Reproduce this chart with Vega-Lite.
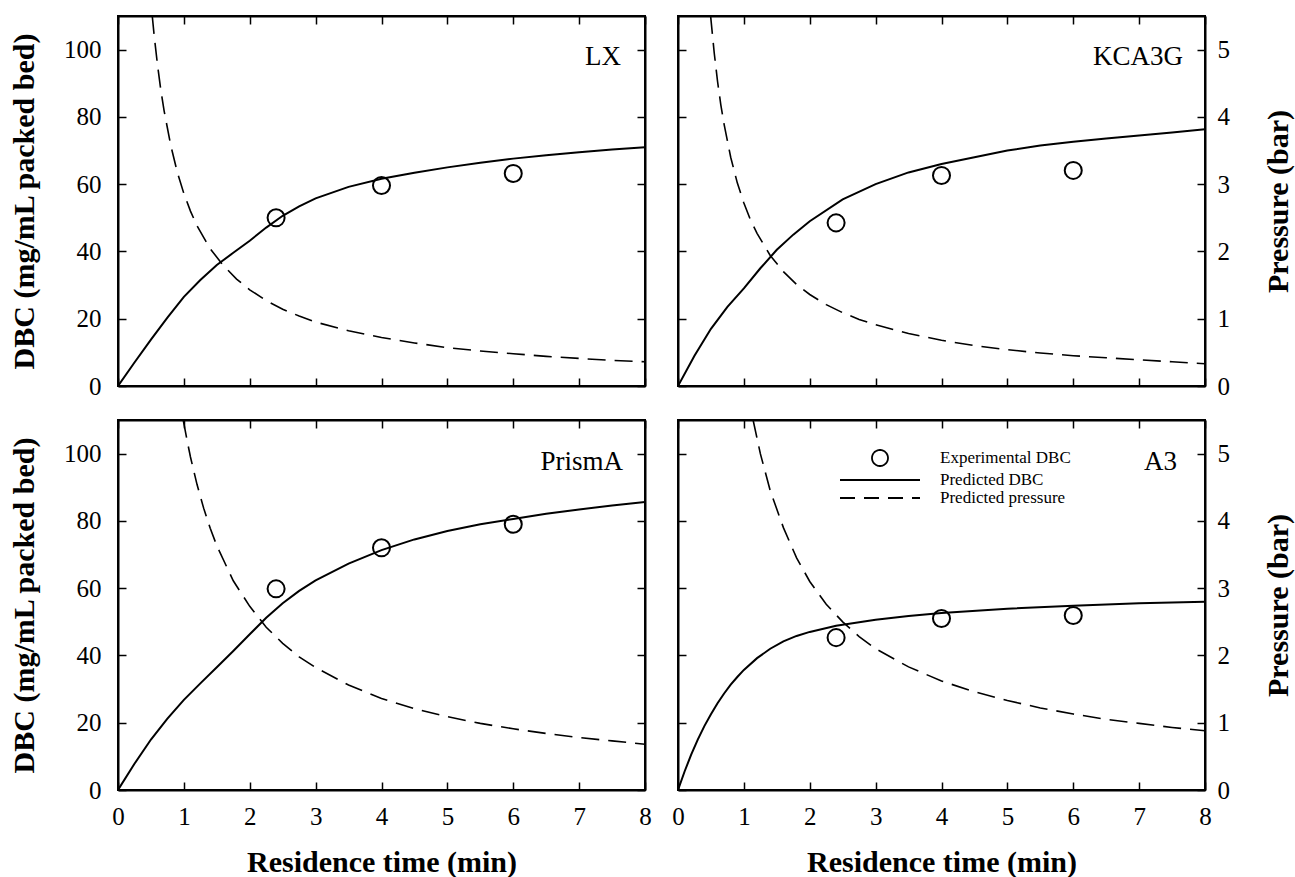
{
  "$schema": "https://vega.github.io/schema/vega-lite/v6.json",
  "background": "white",
  "padding": {"left": 8, "top": 14, "right": 3, "bottom": 0},
  "config": {
    "font": "Liberation Serif",
    "view": {"stroke": "black", "strokeWidth": 2},
    "axis": {
      "grid": false,
      "labelFont": "Liberation Serif",
      "labelFontSize": 25,
      "labelColor": "black",
      "labelFlush": false,
      "titleFont": "Liberation Serif",
      "titleFontSize": 30,
      "titleFontWeight": "bold",
      "titleColor": "black",
      "domainColor": "black",
      "domainWidth": 2,
      "tickColor": "black",
      "tickWidth": 1.5,
      "tickSize": -8
    }
  },
  "datasets": {
    "curves": [
      {"panel": "LX", "series": "Predicted DBC", "t": 0, "v": 0},
      {"panel": "LX", "series": "Predicted DBC", "t": 0.25, "v": 7},
      {"panel": "LX", "series": "Predicted DBC", "t": 0.5, "v": 13.8},
      {"panel": "LX", "series": "Predicted DBC", "t": 0.75, "v": 20.3},
      {"panel": "LX", "series": "Predicted DBC", "t": 1, "v": 26.5},
      {"panel": "LX", "series": "Predicted DBC", "t": 1.25, "v": 31.5},
      {"panel": "LX", "series": "Predicted DBC", "t": 1.5, "v": 36},
      {"panel": "LX", "series": "Predicted DBC", "t": 1.75, "v": 39.6},
      {"panel": "LX", "series": "Predicted DBC", "t": 2, "v": 43.2},
      {"panel": "LX", "series": "Predicted DBC", "t": 2.25, "v": 47.1},
      {"panel": "LX", "series": "Predicted DBC", "t": 2.5, "v": 50.6},
      {"panel": "LX", "series": "Predicted DBC", "t": 2.75, "v": 53.4},
      {"panel": "LX", "series": "Predicted DBC", "t": 3, "v": 55.8},
      {"panel": "LX", "series": "Predicted DBC", "t": 3.5, "v": 59.2},
      {"panel": "LX", "series": "Predicted DBC", "t": 4, "v": 61.6},
      {"panel": "LX", "series": "Predicted DBC", "t": 4.5, "v": 63.4},
      {"panel": "LX", "series": "Predicted DBC", "t": 5, "v": 65},
      {"panel": "LX", "series": "Predicted DBC", "t": 5.5, "v": 66.4},
      {"panel": "LX", "series": "Predicted DBC", "t": 6, "v": 67.6},
      {"panel": "LX", "series": "Predicted DBC", "t": 6.5, "v": 68.6},
      {"panel": "LX", "series": "Predicted DBC", "t": 7, "v": 69.5},
      {"panel": "LX", "series": "Predicted DBC", "t": 7.5, "v": 70.3},
      {"panel": "LX", "series": "Predicted DBC", "t": 8, "v": 71},

      {"panel": "LX", "series": "Predicted pressure", "t": 0.52, "v": 5.5},
      {"panel": "LX", "series": "Predicted pressure", "t": 0.55, "v": 5.2},
      {"panel": "LX", "series": "Predicted pressure", "t": 0.6, "v": 4.77},
      {"panel": "LX", "series": "Predicted pressure", "t": 0.65, "v": 4.4},
      {"panel": "LX", "series": "Predicted pressure", "t": 0.7, "v": 4.09},
      {"panel": "LX", "series": "Predicted pressure", "t": 0.8, "v": 3.58},
      {"panel": "LX", "series": "Predicted pressure", "t": 0.9, "v": 3.18},
      {"panel": "LX", "series": "Predicted pressure", "t": 1, "v": 2.86},
      {"panel": "LX", "series": "Predicted pressure", "t": 1.1, "v": 2.6},
      {"panel": "LX", "series": "Predicted pressure", "t": 1.2, "v": 2.38},
      {"panel": "LX", "series": "Predicted pressure", "t": 1.4, "v": 2.04},
      {"panel": "LX", "series": "Predicted pressure", "t": 1.6, "v": 1.79},
      {"panel": "LX", "series": "Predicted pressure", "t": 1.8, "v": 1.59},
      {"panel": "LX", "series": "Predicted pressure", "t": 2, "v": 1.43},
      {"panel": "LX", "series": "Predicted pressure", "t": 2.25, "v": 1.27},
      {"panel": "LX", "series": "Predicted pressure", "t": 2.5, "v": 1.14},
      {"panel": "LX", "series": "Predicted pressure", "t": 2.75, "v": 1.04},
      {"panel": "LX", "series": "Predicted pressure", "t": 3, "v": 0.95},
      {"panel": "LX", "series": "Predicted pressure", "t": 3.5, "v": 0.82},
      {"panel": "LX", "series": "Predicted pressure", "t": 4, "v": 0.72},
      {"panel": "LX", "series": "Predicted pressure", "t": 4.5, "v": 0.64},
      {"panel": "LX", "series": "Predicted pressure", "t": 5, "v": 0.57},
      {"panel": "LX", "series": "Predicted pressure", "t": 5.5, "v": 0.52},
      {"panel": "LX", "series": "Predicted pressure", "t": 6, "v": 0.48},
      {"panel": "LX", "series": "Predicted pressure", "t": 6.5, "v": 0.44},
      {"panel": "LX", "series": "Predicted pressure", "t": 7, "v": 0.41},
      {"panel": "LX", "series": "Predicted pressure", "t": 7.5, "v": 0.38},
      {"panel": "LX", "series": "Predicted pressure", "t": 8, "v": 0.36},

      {"panel": "KCA3G", "series": "Predicted DBC", "t": 0, "v": 0},
      {"panel": "KCA3G", "series": "Predicted DBC", "t": 0.25, "v": 9},
      {"panel": "KCA3G", "series": "Predicted DBC", "t": 0.5, "v": 17},
      {"panel": "KCA3G", "series": "Predicted DBC", "t": 0.75, "v": 23.5},
      {"panel": "KCA3G", "series": "Predicted DBC", "t": 1, "v": 29},
      {"panel": "KCA3G", "series": "Predicted DBC", "t": 1.25, "v": 35},
      {"panel": "KCA3G", "series": "Predicted DBC", "t": 1.5, "v": 40.5},
      {"panel": "KCA3G", "series": "Predicted DBC", "t": 1.75, "v": 45},
      {"panel": "KCA3G", "series": "Predicted DBC", "t": 2, "v": 49},
      {"panel": "KCA3G", "series": "Predicted DBC", "t": 2.5, "v": 55.5},
      {"panel": "KCA3G", "series": "Predicted DBC", "t": 3, "v": 60},
      {"panel": "KCA3G", "series": "Predicted DBC", "t": 3.5, "v": 63.5},
      {"panel": "KCA3G", "series": "Predicted DBC", "t": 4, "v": 66},
      {"panel": "KCA3G", "series": "Predicted DBC", "t": 4.5, "v": 68},
      {"panel": "KCA3G", "series": "Predicted DBC", "t": 5, "v": 70},
      {"panel": "KCA3G", "series": "Predicted DBC", "t": 5.5, "v": 71.5},
      {"panel": "KCA3G", "series": "Predicted DBC", "t": 6, "v": 72.6},
      {"panel": "KCA3G", "series": "Predicted DBC", "t": 6.5, "v": 73.6},
      {"panel": "KCA3G", "series": "Predicted DBC", "t": 7, "v": 74.5},
      {"panel": "KCA3G", "series": "Predicted DBC", "t": 7.5, "v": 75.4},
      {"panel": "KCA3G", "series": "Predicted DBC", "t": 8, "v": 76.3},

      {"panel": "KCA3G", "series": "Predicted pressure", "t": 0.495, "v": 5.5},
      {"panel": "KCA3G", "series": "Predicted pressure", "t": 0.55, "v": 4.95},
      {"panel": "KCA3G", "series": "Predicted pressure", "t": 0.6, "v": 4.53},
      {"panel": "KCA3G", "series": "Predicted pressure", "t": 0.65, "v": 4.18},
      {"panel": "KCA3G", "series": "Predicted pressure", "t": 0.7, "v": 3.89},
      {"panel": "KCA3G", "series": "Predicted pressure", "t": 0.8, "v": 3.4},
      {"panel": "KCA3G", "series": "Predicted pressure", "t": 0.9, "v": 3.02},
      {"panel": "KCA3G", "series": "Predicted pressure", "t": 1, "v": 2.72},
      {"panel": "KCA3G", "series": "Predicted pressure", "t": 1.1, "v": 2.47},
      {"panel": "KCA3G", "series": "Predicted pressure", "t": 1.2, "v": 2.27},
      {"panel": "KCA3G", "series": "Predicted pressure", "t": 1.4, "v": 1.94},
      {"panel": "KCA3G", "series": "Predicted pressure", "t": 1.6, "v": 1.7},
      {"panel": "KCA3G", "series": "Predicted pressure", "t": 1.8, "v": 1.51},
      {"panel": "KCA3G", "series": "Predicted pressure", "t": 2, "v": 1.36},
      {"panel": "KCA3G", "series": "Predicted pressure", "t": 2.25, "v": 1.21},
      {"panel": "KCA3G", "series": "Predicted pressure", "t": 2.5, "v": 1.09},
      {"panel": "KCA3G", "series": "Predicted pressure", "t": 2.75, "v": 0.99},
      {"panel": "KCA3G", "series": "Predicted pressure", "t": 3, "v": 0.91},
      {"panel": "KCA3G", "series": "Predicted pressure", "t": 3.5, "v": 0.78},
      {"panel": "KCA3G", "series": "Predicted pressure", "t": 4, "v": 0.68},
      {"panel": "KCA3G", "series": "Predicted pressure", "t": 4.5, "v": 0.6},
      {"panel": "KCA3G", "series": "Predicted pressure", "t": 5, "v": 0.54},
      {"panel": "KCA3G", "series": "Predicted pressure", "t": 5.5, "v": 0.49},
      {"panel": "KCA3G", "series": "Predicted pressure", "t": 6, "v": 0.45},
      {"panel": "KCA3G", "series": "Predicted pressure", "t": 6.5, "v": 0.42},
      {"panel": "KCA3G", "series": "Predicted pressure", "t": 7, "v": 0.39},
      {"panel": "KCA3G", "series": "Predicted pressure", "t": 7.5, "v": 0.36},
      {"panel": "KCA3G", "series": "Predicted pressure", "t": 8, "v": 0.33},

      {"panel": "PrismA", "series": "Predicted DBC", "t": 0, "v": 0},
      {"panel": "PrismA", "series": "Predicted DBC", "t": 0.25, "v": 7.8},
      {"panel": "PrismA", "series": "Predicted DBC", "t": 0.5, "v": 15},
      {"panel": "PrismA", "series": "Predicted DBC", "t": 0.75, "v": 21.2},
      {"panel": "PrismA", "series": "Predicted DBC", "t": 1, "v": 26.8},
      {"panel": "PrismA", "series": "Predicted DBC", "t": 1.25, "v": 31.7},
      {"panel": "PrismA", "series": "Predicted DBC", "t": 1.5, "v": 36.5},
      {"panel": "PrismA", "series": "Predicted DBC", "t": 1.75, "v": 41.3},
      {"panel": "PrismA", "series": "Predicted DBC", "t": 2, "v": 46.3},
      {"panel": "PrismA", "series": "Predicted DBC", "t": 2.25, "v": 51.2},
      {"panel": "PrismA", "series": "Predicted DBC", "t": 2.5, "v": 55.5},
      {"panel": "PrismA", "series": "Predicted DBC", "t": 2.75, "v": 59.2},
      {"panel": "PrismA", "series": "Predicted DBC", "t": 3, "v": 62.3},
      {"panel": "PrismA", "series": "Predicted DBC", "t": 3.5, "v": 67.3},
      {"panel": "PrismA", "series": "Predicted DBC", "t": 4, "v": 71.3},
      {"panel": "PrismA", "series": "Predicted DBC", "t": 4.5, "v": 74.5},
      {"panel": "PrismA", "series": "Predicted DBC", "t": 5, "v": 77},
      {"panel": "PrismA", "series": "Predicted DBC", "t": 5.5, "v": 79},
      {"panel": "PrismA", "series": "Predicted DBC", "t": 6, "v": 80.6},
      {"panel": "PrismA", "series": "Predicted DBC", "t": 6.5, "v": 82.1},
      {"panel": "PrismA", "series": "Predicted DBC", "t": 7, "v": 83.4},
      {"panel": "PrismA", "series": "Predicted DBC", "t": 7.5, "v": 84.6},
      {"panel": "PrismA", "series": "Predicted DBC", "t": 8, "v": 85.6},

      {"panel": "PrismA", "series": "Predicted pressure", "t": 0.99, "v": 5.5},
      {"panel": "PrismA", "series": "Predicted pressure", "t": 1.05, "v": 5.19},
      {"panel": "PrismA", "series": "Predicted pressure", "t": 1.1, "v": 4.95},
      {"panel": "PrismA", "series": "Predicted pressure", "t": 1.2, "v": 4.54},
      {"panel": "PrismA", "series": "Predicted pressure", "t": 1.3, "v": 4.19},
      {"panel": "PrismA", "series": "Predicted pressure", "t": 1.4, "v": 3.89},
      {"panel": "PrismA", "series": "Predicted pressure", "t": 1.5, "v": 3.63},
      {"panel": "PrismA", "series": "Predicted pressure", "t": 1.75, "v": 3.11},
      {"panel": "PrismA", "series": "Predicted pressure", "t": 2, "v": 2.73},
      {"panel": "PrismA", "series": "Predicted pressure", "t": 2.25, "v": 2.42},
      {"panel": "PrismA", "series": "Predicted pressure", "t": 2.5, "v": 2.18},
      {"panel": "PrismA", "series": "Predicted pressure", "t": 2.75, "v": 1.98},
      {"panel": "PrismA", "series": "Predicted pressure", "t": 3, "v": 1.82},
      {"panel": "PrismA", "series": "Predicted pressure", "t": 3.5, "v": 1.56},
      {"panel": "PrismA", "series": "Predicted pressure", "t": 4, "v": 1.36},
      {"panel": "PrismA", "series": "Predicted pressure", "t": 4.5, "v": 1.21},
      {"panel": "PrismA", "series": "Predicted pressure", "t": 5, "v": 1.09},
      {"panel": "PrismA", "series": "Predicted pressure", "t": 5.5, "v": 0.99},
      {"panel": "PrismA", "series": "Predicted pressure", "t": 6, "v": 0.91},
      {"panel": "PrismA", "series": "Predicted pressure", "t": 6.5, "v": 0.84},
      {"panel": "PrismA", "series": "Predicted pressure", "t": 7, "v": 0.78},
      {"panel": "PrismA", "series": "Predicted pressure", "t": 7.5, "v": 0.73},
      {"panel": "PrismA", "series": "Predicted pressure", "t": 8, "v": 0.68},

      {"panel": "A3", "series": "Predicted DBC", "t": 0, "v": 0},
      {"panel": "A3", "series": "Predicted DBC", "t": 0.1, "v": 5.5},
      {"panel": "A3", "series": "Predicted DBC", "t": 0.2, "v": 10.5},
      {"panel": "A3", "series": "Predicted DBC", "t": 0.3, "v": 15},
      {"panel": "A3", "series": "Predicted DBC", "t": 0.4, "v": 19},
      {"panel": "A3", "series": "Predicted DBC", "t": 0.5, "v": 22.5},
      {"panel": "A3", "series": "Predicted DBC", "t": 0.6, "v": 25.8},
      {"panel": "A3", "series": "Predicted DBC", "t": 0.7, "v": 28.7},
      {"panel": "A3", "series": "Predicted DBC", "t": 0.8, "v": 31.3},
      {"panel": "A3", "series": "Predicted DBC", "t": 0.9, "v": 33.6},
      {"panel": "A3", "series": "Predicted DBC", "t": 1, "v": 35.7},
      {"panel": "A3", "series": "Predicted DBC", "t": 1.2, "v": 39.2},
      {"panel": "A3", "series": "Predicted DBC", "t": 1.4, "v": 42},
      {"panel": "A3", "series": "Predicted DBC", "t": 1.6, "v": 44.2},
      {"panel": "A3", "series": "Predicted DBC", "t": 1.8, "v": 45.8},
      {"panel": "A3", "series": "Predicted DBC", "t": 2, "v": 47},
      {"panel": "A3", "series": "Predicted DBC", "t": 2.4, "v": 48.8},
      {"panel": "A3", "series": "Predicted DBC", "t": 3, "v": 50.6},
      {"panel": "A3", "series": "Predicted DBC", "t": 3.5, "v": 51.7},
      {"panel": "A3", "series": "Predicted DBC", "t": 4, "v": 52.6},
      {"panel": "A3", "series": "Predicted DBC", "t": 5, "v": 53.9},
      {"panel": "A3", "series": "Predicted DBC", "t": 6, "v": 54.8},
      {"panel": "A3", "series": "Predicted DBC", "t": 7, "v": 55.5},
      {"panel": "A3", "series": "Predicted DBC", "t": 8, "v": 56},

      {"panel": "A3", "series": "Predicted pressure", "t": 1.14, "v": 5.5},
      {"panel": "A3", "series": "Predicted pressure", "t": 1.25, "v": 5.0},
      {"panel": "A3", "series": "Predicted pressure", "t": 1.4, "v": 4.45},
      {"panel": "A3", "series": "Predicted pressure", "t": 1.6, "v": 3.9},
      {"panel": "A3", "series": "Predicted pressure", "t": 1.8, "v": 3.45},
      {"panel": "A3", "series": "Predicted pressure", "t": 2, "v": 3.1},
      {"panel": "A3", "series": "Predicted pressure", "t": 2.25, "v": 2.76},
      {"panel": "A3", "series": "Predicted pressure", "t": 2.5, "v": 2.5},
      {"panel": "A3", "series": "Predicted pressure", "t": 2.75, "v": 2.28},
      {"panel": "A3", "series": "Predicted pressure", "t": 3, "v": 2.1},
      {"panel": "A3", "series": "Predicted pressure", "t": 3.5, "v": 1.83},
      {"panel": "A3", "series": "Predicted pressure", "t": 4, "v": 1.62},
      {"panel": "A3", "series": "Predicted pressure", "t": 4.5, "v": 1.46},
      {"panel": "A3", "series": "Predicted pressure", "t": 5, "v": 1.33},
      {"panel": "A3", "series": "Predicted pressure", "t": 5.5, "v": 1.22},
      {"panel": "A3", "series": "Predicted pressure", "t": 6, "v": 1.13},
      {"panel": "A3", "series": "Predicted pressure", "t": 6.5, "v": 1.05},
      {"panel": "A3", "series": "Predicted pressure", "t": 7, "v": 0.99},
      {"panel": "A3", "series": "Predicted pressure", "t": 7.5, "v": 0.93},
      {"panel": "A3", "series": "Predicted pressure", "t": 8, "v": 0.88}
    ],
    "points": [
      {"panel": "LX", "series": "Experimental DBC", "t": 2.4, "v": 50},
      {"panel": "LX", "series": "Experimental DBC", "t": 4, "v": 59.6},
      {"panel": "LX", "series": "Experimental DBC", "t": 6, "v": 63.2},
      {"panel": "KCA3G", "series": "Experimental DBC", "t": 2.4, "v": 48.5},
      {"panel": "KCA3G", "series": "Experimental DBC", "t": 4, "v": 62.6},
      {"panel": "KCA3G", "series": "Experimental DBC", "t": 6, "v": 64.1},
      {"panel": "PrismA", "series": "Experimental DBC", "t": 2.4, "v": 59.8},
      {"panel": "PrismA", "series": "Experimental DBC", "t": 4, "v": 72},
      {"panel": "PrismA", "series": "Experimental DBC", "t": 6, "v": 79},
      {"panel": "A3", "series": "Experimental DBC", "t": 2.4, "v": 45.3},
      {"panel": "A3", "series": "Experimental DBC", "t": 4, "v": 51},
      {"panel": "A3", "series": "Experimental DBC", "t": 6, "v": 51.9}
    ]
  },
  "columns": 2,
  "spacing": {"row": 18, "column": 17},
  "concat": [
    {
      "width": 527, "height": 370,
      "title": {"text": "LX", "anchor": "end", "frame": "group", "offset": -77, "dx": -24, "baseline": "alphabetic", "fontSize": 27, "fontWeight": "normal", "font": "Liberation Serif", "color": "black"},
      "layer": [
        {"layer": [
          {"data": {"name": "curves"},
           "transform": [{"filter": "datum.panel === 'LX' && datum.series === 'Predicted DBC'"}],
           "mark": {"type": "line", "color": "black", "strokeWidth": 2, "clip": true},
           "encoding": {
             "x": {"field": "t", "type": "quantitative", "scale": {"domain": [0, 8], "nice": false}, "axis": {"orient": "bottom", "values": [0, 1, 2, 3, 4, 5, 6, 7, 8], "labels": false, "title": null}},
             "y": {"field": "v", "type": "quantitative", "scale": {"domain": [0, 110], "nice": false}, "axis": {"orient": "left", "values": [0, 20, 40, 60, 80, 100], "title": "DBC (mg/mL packed bed)", "labelPadding": 25, "titlePadding": 24}}
           }},
          {"data": {"name": "points"},
           "transform": [{"filter": "datum.panel === 'LX'"}],
           "mark": {"type": "point", "shape": "circle", "filled": false, "color": "black", "size": 290, "strokeWidth": 2, "opacity": 1},
           "encoding": {
             "x": {"field": "t", "type": "quantitative", "scale": {"domain": [0, 8], "nice": false}, "axis": {"orient": "bottom", "values": [0, 1, 2, 3, 4, 5, 6, 7, 8], "labels": false, "title": null}},
             "y": {"field": "v", "type": "quantitative", "scale": {"domain": [0, 110], "nice": false}, "axis": {"orient": "left", "values": [0, 20, 40, 60, 80, 100], "title": "DBC (mg/mL packed bed)", "labelPadding": 25, "titlePadding": 24}}
           }}
        ]},
        {"data": {"name": "curves"},
         "transform": [{"filter": "datum.panel === 'LX' && datum.series === 'Predicted pressure'"}],
         "mark": {"type": "line", "color": "black", "strokeWidth": 1.6, "strokeDash": [18, 9], "clip": true},
         "encoding": {
           "x": {"field": "t", "type": "quantitative", "scale": {"domain": [0, 8], "nice": false}, "axis": {"orient": "top", "values": [0, 1, 2, 3, 4, 5, 6, 7, 8], "labels": false, "title": null}},
           "y": {"field": "v", "type": "quantitative", "scale": {"domain": [0, 5.5], "nice": false}, "axis": {"orient": "right", "values": [0, 1, 2, 3, 4, 5], "labels": false, "title": null}}
         }}
      ],
      "resolve": {"scale": {"y": "independent"}, "axis": {"x": "independent"}}
    },
    {
      "width": 527, "height": 370,
      "title": {"text": "KCA3G", "anchor": "end", "frame": "group", "offset": -77, "dx": -22, "baseline": "alphabetic", "fontSize": 27, "fontWeight": "normal", "font": "Liberation Serif", "color": "black"},
      "layer": [
        {"layer": [
          {"data": {"name": "curves"},
           "transform": [{"filter": "datum.panel === 'KCA3G' && datum.series === 'Predicted DBC'"}],
           "mark": {"type": "line", "color": "black", "strokeWidth": 2, "clip": true},
           "encoding": {
             "x": {"field": "t", "type": "quantitative", "scale": {"domain": [0, 8], "nice": false}, "axis": {"orient": "bottom", "values": [0, 1, 2, 3, 4, 5, 6, 7, 8], "labels": false, "title": null}},
             "y": {"field": "v", "type": "quantitative", "scale": {"domain": [0, 110], "nice": false}, "axis": {"orient": "left", "values": [0, 20, 40, 60, 80, 100], "labels": false, "title": null}}
           }},
          {"data": {"name": "points"},
           "transform": [{"filter": "datum.panel === 'KCA3G'"}],
           "mark": {"type": "point", "shape": "circle", "filled": false, "color": "black", "size": 290, "strokeWidth": 2, "opacity": 1},
           "encoding": {
             "x": {"field": "t", "type": "quantitative", "scale": {"domain": [0, 8], "nice": false}, "axis": {"orient": "bottom", "values": [0, 1, 2, 3, 4, 5, 6, 7, 8], "labels": false, "title": null}},
             "y": {"field": "v", "type": "quantitative", "scale": {"domain": [0, 110], "nice": false}, "axis": {"orient": "left", "values": [0, 20, 40, 60, 80, 100], "labels": false, "title": null}}
           }}
        ]},
        {"data": {"name": "curves"},
         "transform": [{"filter": "datum.panel === 'KCA3G' && datum.series === 'Predicted pressure'"}],
         "mark": {"type": "line", "color": "black", "strokeWidth": 1.6, "strokeDash": [18, 9], "clip": true},
         "encoding": {
           "x": {"field": "t", "type": "quantitative", "scale": {"domain": [0, 8], "nice": false}, "axis": {"orient": "top", "values": [0, 1, 2, 3, 4, 5, 6, 7, 8], "labels": false, "title": null}},
           "y": {"field": "v", "type": "quantitative", "scale": {"domain": [0, 5.5], "nice": false}, "axis": {"orient": "right", "values": [0, 1, 2, 3, 4, 5], "title": "Pressure (bar)", "titleAngle": 270, "titleBaseline": "top", "labelPadding": 20, "titlePadding": 34}}
         }}
      ],
      "resolve": {"scale": {"y": "independent"}, "axis": {"x": "independent"}}
    },
    {
      "width": 527, "height": 370,
      "title": {"text": "PrismA", "anchor": "end", "frame": "group", "offset": -78, "dx": -22, "baseline": "alphabetic", "fontSize": 27, "fontWeight": "normal", "font": "Liberation Serif", "color": "black"},
      "layer": [
        {"layer": [
          {"data": {"name": "curves"},
           "transform": [{"filter": "datum.panel === 'PrismA' && datum.series === 'Predicted DBC'"}],
           "mark": {"type": "line", "color": "black", "strokeWidth": 2, "clip": true},
           "encoding": {
             "x": {"field": "t", "type": "quantitative", "scale": {"domain": [0, 8], "nice": false}, "axis": {"orient": "bottom", "values": [0, 1, 2, 3, 4, 5, 6, 7, 8], "title": "Residence time (min)", "labelPadding": 22, "titlePadding": 18}},
             "y": {"field": "v", "type": "quantitative", "scale": {"domain": [0, 110], "nice": false}, "axis": {"orient": "left", "values": [0, 20, 40, 60, 80, 100], "title": "DBC (mg/mL packed bed)", "labelPadding": 25, "titlePadding": 24}}
           }},
          {"data": {"name": "points"},
           "transform": [{"filter": "datum.panel === 'PrismA'"}],
           "mark": {"type": "point", "shape": "circle", "filled": false, "color": "black", "size": 290, "strokeWidth": 2, "opacity": 1},
           "encoding": {
             "x": {"field": "t", "type": "quantitative", "scale": {"domain": [0, 8], "nice": false}, "axis": {"orient": "bottom", "values": [0, 1, 2, 3, 4, 5, 6, 7, 8], "title": "Residence time (min)", "labelPadding": 22, "titlePadding": 18}},
             "y": {"field": "v", "type": "quantitative", "scale": {"domain": [0, 110], "nice": false}, "axis": {"orient": "left", "values": [0, 20, 40, 60, 80, 100], "title": "DBC (mg/mL packed bed)", "labelPadding": 25, "titlePadding": 24}}
           }}
        ]},
        {"data": {"name": "curves"},
         "transform": [{"filter": "datum.panel === 'PrismA' && datum.series === 'Predicted pressure'"}],
         "mark": {"type": "line", "color": "black", "strokeWidth": 1.6, "strokeDash": [18, 9], "clip": true},
         "encoding": {
           "x": {"field": "t", "type": "quantitative", "scale": {"domain": [0, 8], "nice": false}, "axis": {"orient": "top", "values": [0, 1, 2, 3, 4, 5, 6, 7, 8], "labels": false, "title": null}},
           "y": {"field": "v", "type": "quantitative", "scale": {"domain": [0, 5.5], "nice": false}, "axis": {"orient": "right", "values": [0, 1, 2, 3, 4, 5], "labels": false, "title": null}}
         }}
      ],
      "resolve": {"scale": {"y": "independent"}, "axis": {"x": "independent"}}
    },
    {
      "width": 527, "height": 370,
      "title": {"text": "A3", "anchor": "end", "frame": "group", "offset": -78, "dx": -28, "baseline": "alphabetic", "fontSize": 27, "fontWeight": "normal", "font": "Liberation Serif", "color": "black"},
      "layer": [
        {"layer": [
          {"data": {"name": "curves"},
           "transform": [{"filter": "datum.panel === 'A3' && datum.series === 'Predicted DBC'"}],
           "mark": {"type": "line", "strokeWidth": 2, "clip": true},
           "encoding": {
             "x": {"field": "t", "type": "quantitative", "scale": {"domain": [0, 8], "nice": false}, "axis": {"orient": "bottom", "values": [0, 1, 2, 3, 4, 5, 6, 7, 8], "title": "Residence time (min)", "labelPadding": 22, "titlePadding": 18}},
             "y": {"field": "v", "type": "quantitative", "scale": {"domain": [0, 110], "nice": false}, "axis": {"orient": "left", "values": [0, 20, 40, 60, 80, 100], "labels": false, "title": null}},
             "color": {"field": "series", "type": "nominal", "scale": {"domain": ["Experimental DBC", "Predicted DBC", "Predicted pressure"], "range": ["black", "black", "black"]},
               "legend": {
                 "title": null, "orient": "none", "legendX": 753, "legendY": 433, "padding": 0,
                 "symbolSize": 256, "symbolStrokeWidth": 1.8,
                 "labelFont": "Liberation Serif", "labelFontSize": 17, "labelColor": "black", "labelOffset": 51, "rowPadding": 1,
                 "encode": {"symbols": {"update": {
                   "shape": {"signal": "datum.value === 'Experimental DBC' ? 'circle' : 'M-5,0H5'"},
                   "strokeDash": {"signal": "datum.value === 'Predicted pressure' ? [15, 9] : [1, 0]"},
                   "fill": {"value": "transparent"},
                   "stroke": {"value": "black"},
                   "strokeWidth": {"value": 1.8},
                   "opacity": {"value": 1}
                 }}}
               }}
           }},
          {"data": {"name": "points"},
           "transform": [{"filter": "datum.panel === 'A3'"}],
           "mark": {"type": "point", "shape": "circle", "filled": false, "size": 290, "strokeWidth": 2, "opacity": 1},
           "encoding": {
             "x": {"field": "t", "type": "quantitative", "scale": {"domain": [0, 8], "nice": false}, "axis": {"orient": "bottom", "values": [0, 1, 2, 3, 4, 5, 6, 7, 8], "title": "Residence time (min)", "labelPadding": 22, "titlePadding": 18}},
             "y": {"field": "v", "type": "quantitative", "scale": {"domain": [0, 110], "nice": false}, "axis": {"orient": "left", "values": [0, 20, 40, 60, 80, 100], "labels": false, "title": null}},
             "color": {"field": "series", "type": "nominal", "scale": {"domain": ["Experimental DBC", "Predicted DBC", "Predicted pressure"], "range": ["black", "black", "black"]}}
           }}
        ]},
        {"data": {"name": "curves"},
         "transform": [{"filter": "datum.panel === 'A3' && datum.series === 'Predicted pressure'"}],
         "mark": {"type": "line", "strokeWidth": 1.6, "strokeDash": [18, 9], "clip": true},
         "encoding": {
           "x": {"field": "t", "type": "quantitative", "scale": {"domain": [0, 8], "nice": false}, "axis": {"orient": "top", "values": [0, 1, 2, 3, 4, 5, 6, 7, 8], "labels": false, "title": null}},
           "y": {"field": "v", "type": "quantitative", "scale": {"domain": [0, 5.5], "nice": false}, "axis": {"orient": "right", "values": [0, 1, 2, 3, 4, 5], "title": "Pressure (bar)", "titleAngle": 270, "titleBaseline": "top", "labelPadding": 20, "titlePadding": 34}},
           "color": {"field": "series", "type": "nominal", "scale": {"domain": ["Experimental DBC", "Predicted DBC", "Predicted pressure"], "range": ["black", "black", "black"]}}
         }}
      ],
      "resolve": {"scale": {"y": "independent"}, "axis": {"x": "independent"}}
    }
  ]
}
